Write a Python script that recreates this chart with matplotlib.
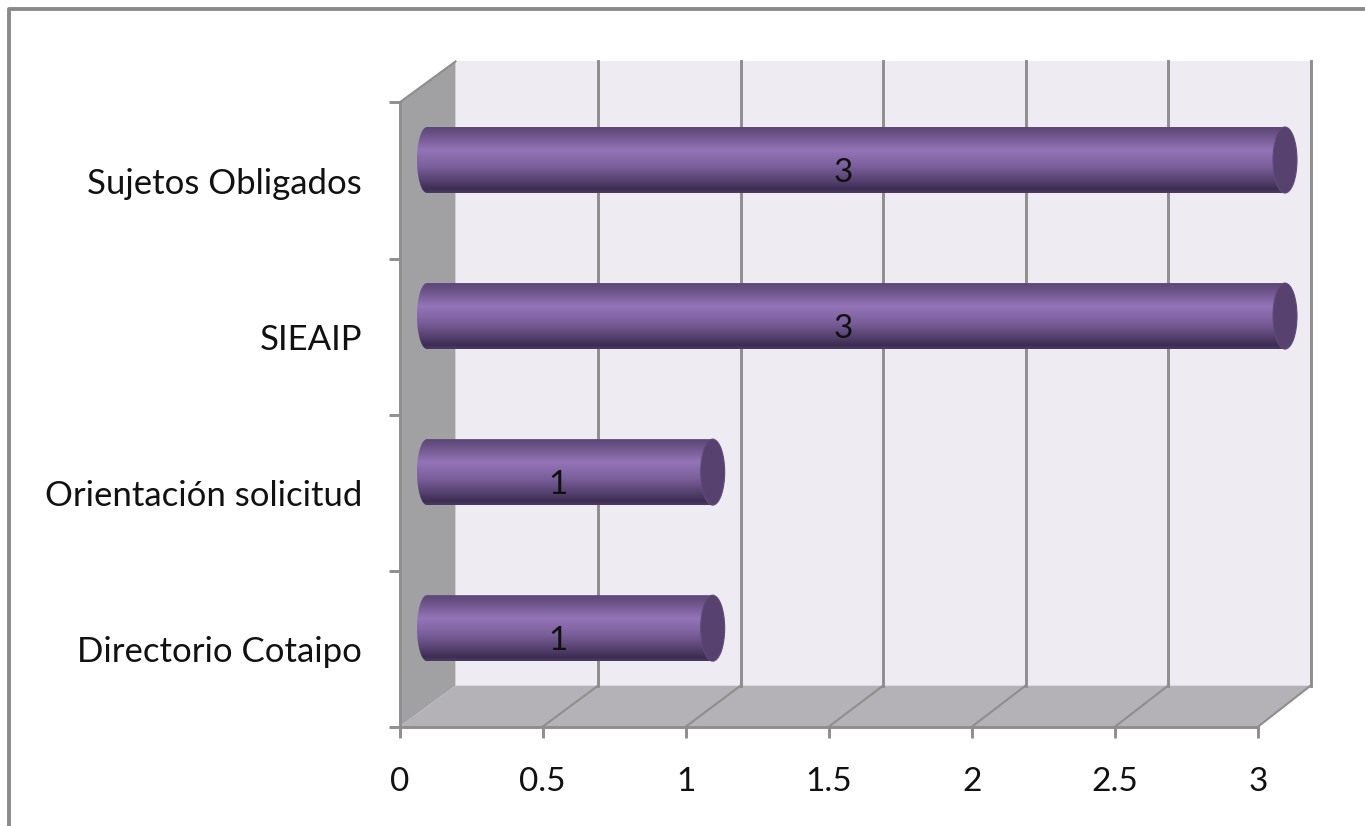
import matplotlib
matplotlib.use("Agg")
import matplotlib.pyplot as plt
from matplotlib.colors import LinearSegmentedColormap
from matplotlib.patches import Ellipse, Polygon, PathPatch
from matplotlib.lines import Line2D
from matplotlib.path import Path
import numpy as np

categories = ["Directorio Cotaipo", "Orientación solicitud", "SIEAIP", "Sujetos Obligados"]
values = [1, 1, 3, 3]
x_ticks = [0, 0.5, 1, 1.5, 2, 2.5, 3]
x_labels = ["0", "0.5", "1", "1.5", "2", "2.5", "3"]

W, H = 1365, 826
plt.rcParams["font.family"] = ["Lato", "DejaVu Sans"]

fig = plt.figure(figsize=(W / 100, H / 100), dpi=100, facecolor="white")
# front plane of the fake 3d box, in pixels
left, right, top, bottom = 399.5, 1258, 102.5, 726.7
ax = fig.add_axes([left / W, 1 - bottom / H, (right - left) / W, (bottom - top) / H])
ax.set_xlim(0, 3)
ax.set_ylim(-0.5, 3.5)
ax.patch.set_visible(False)

GRID = "#8e8e8e"
lw = 2.1
px_x = 3 / (right - left)
px_y = 4 / (bottom - top)
dx, dy = 56 * px_x, 41 * px_y  # depth of the box
back_scale = 855 / 858.5  # back plane is a touch narrower


def back_x(v):
    return v * back_scale + dx


y0, y1 = -0.5, 3.5
# back wall, side wall, floor
ax.add_patch(Polygon([(back_x(0), y0 + dy), (back_x(3), y0 + dy), (back_x(3), y1 + dy), (back_x(0), y1 + dy)],
                     fc="#eeebf3", ec="none", clip_on=False, zorder=1))
ax.add_patch(Polygon([(0, y0), (dx, y0 + dy), (dx, y1 + dy), (0, y1)],
                     fc="#a1a0a3", ec="none", clip_on=False, zorder=1))
ax.add_patch(Polygon([(0, y0), (3, y0), (back_x(3), y0 + dy), (dx, y0 + dy)],
                     fc="#b4b2b7", ec="none", clip_on=False, zorder=1))

for v in x_ticks[1:]:
    ax.plot([back_x(v), back_x(v)], [y0 + dy, y1 + dy], color=GRID, lw=lw, clip_on=False, zorder=2)
    ax.plot([v, back_x(v)], [y0, y0 + dy], color=GRID, lw=1.5, clip_on=False, zorder=2)
ax.plot([0, dx], [y1, y1 + dy], color=GRID, lw=1.5, clip_on=False, zorder=2)

# bars are cylinders: vertical gradient clipped to the outline, plus an end cap
cmap = LinearSegmentedColormap.from_list("cyl", [
    (0.0, "#5b4677"), (0.12, "#6d5489"), (0.35, "#9474b8"), (0.6, "#7a5f9a"),
    (0.82, "#54406e"), (0.94, "#3d2d52"), (1.0, "#4b3a62")])
grad = np.linspace(0, 1, 256).reshape(-1, 1)
bar_h = 66 * px_y
cap_w = 12 * px_x
left_w = 10 * px_x
for i, val in enumerate(values):
    x_a = 27.5 * px_x
    x_b = val + 27 * px_x
    yc = i + dy / 2
    im = ax.imshow(grad, cmap=cmap, aspect="auto", extent=(x_a - left_w, x_b, yc - bar_h / 2, yc + bar_h / 2),
                   origin="upper", zorder=3)
    t = np.linspace(np.pi / 2, 3 * np.pi / 2, 40)
    pts = [(x_a + left_w * np.cos(a), yc + bar_h / 2 * np.sin(a)) for a in t]
    pts += [(x_b, yc - bar_h / 2), (x_b, yc + bar_h / 2), pts[0]]
    outline = PathPatch(Path(pts), transform=ax.transData, fc="none", ec="none", clip_on=False)
    ax.add_patch(outline)
    im.set_clip_box(fig.bbox)
    im.set_clip_path(outline)
    ax.add_patch(Ellipse((x_b, yc), 2 * cap_w, bar_h, fc="#57416f", ec="#604a7c", lw=0.8,
                         clip_on=False, zorder=4))
    ax.text(val / 2 + 15 * px_x, yc - 12.5 * px_y, str(val), ha="center", va="center",
            fontsize=24, color="#111111", zorder=5)

ax.set_xlim(0, 3)
ax.set_ylim(-0.5, 3.5)

ax.set_xticks(x_ticks)
ax.set_xticklabels(x_labels)
ax.set_yticks([-0.5, 0.5, 1.5, 2.5, 3.5])
ax.set_yticklabels([])
ax.set_yticks(range(len(categories)), minor=True)
ax.set_yticklabels(categories, minor=True)
ax.tick_params(axis="both", which="major", length=8, width=lw, color=GRID, labelsize=24,
               labelcolor="#111111")
ax.tick_params(axis="x", pad=21)
ax.tick_params(axis="y", which="minor", length=0, pad=27, labelsize=25, labelcolor="#111111")
for name in ["top", "right"]:
    ax.spines[name].set_visible(False)
for name in ["left", "bottom"]:
    ax.spines[name].set_color(GRID)
    ax.spines[name].set_linewidth(lw)
    ax.spines[name].set_zorder(2.5)

# outer frame of the chart area
fig.add_artist(Line2D([8.8 / W, 8.8 / W, 1], [0, 1 - 9 / H, 1 - 9 / H], color="#8a8a8a", lw=2.8))

fig.savefig("out.png", dpi=100)
